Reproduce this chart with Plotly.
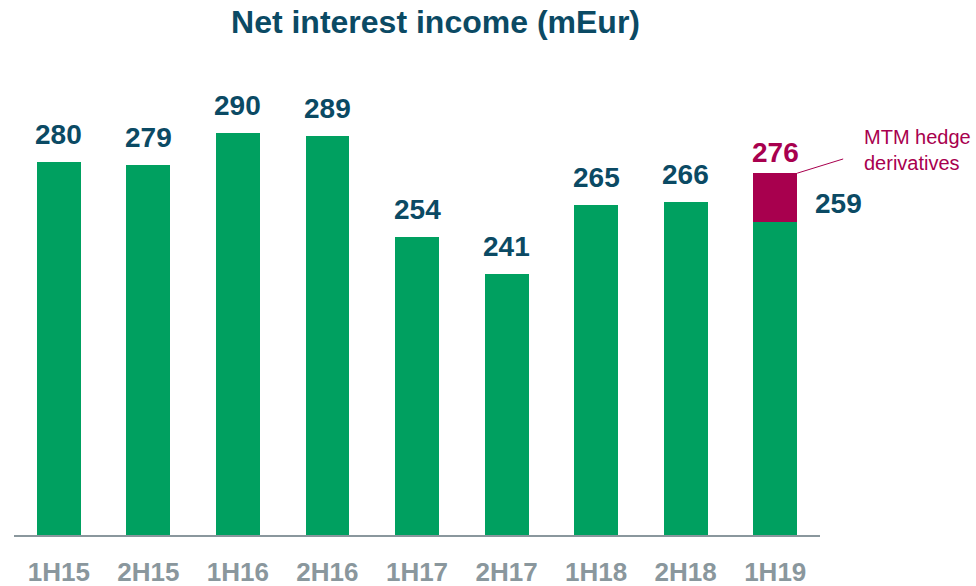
import plotly.graph_objects as go

categories = ["1H15", "2H15", "1H16", "2H16", "1H17", "2H17", "1H18", "2H18", "1H19"]
nii_values = [280, 279, 290, 289, 254, 241, 265, 266, 259]
mtm_values = [0, 0, 0, 0, 0, 0, 0, 0, 17]
title_text = "Net interest income (mEur)"
mtm_label = "MTM hedge<br>derivatives"

GREEN = "#00A060"
CRIMSON = "#A8004E"
TEAL = "#0B4A64"
GREY = "#8A979D"
FONT = "Liberation Sans, Arial, sans-serif"

fig = go.Figure()
fig.add_trace(go.Bar(x=categories, y=nii_values, marker=dict(color=GREEN, line=dict(width=0)),
                     hoverinfo="skip"))
fig.add_trace(go.Bar(x=categories, y=[v if v else None for v in mtm_values],
                     marker=dict(color=CRIMSON, line=dict(width=0)), hoverinfo="skip"))

annotations = []
for i, (c, v) in enumerate(zip(categories, nii_values)):
    if mtm_values[i]:
        total = v + mtm_values[i]
        annotations.append(dict(x=c, y=total, text=f"<b>{total}</b>", showarrow=False,
                                yanchor="bottom", yshift=3,
                                font=dict(family=FONT, size=28, color=CRIMSON)))
        annotations.append(dict(x=c, y=v, text=f"<b>{v}</b>", showarrow=False,
                                yanchor="middle", xshift=63, yshift=19,
                                font=dict(family=FONT, size=28, color=TEAL)))
        annotations.append(dict(x=c, y=284.3, text=mtm_label, showarrow=False,
                                xanchor="left", yanchor="middle", align="left", xshift=86.5,
                                yshift=-1,
                                font=dict(family=FONT, size=20, color=CRIMSON)))
        annotations.append(dict(x=i + 0.245, y=total, text="", showarrow=True, arrowhead=0,
                                arrowwidth=1, arrowcolor=CRIMSON, ax=47.5, ay=-14.7,
                                standoff=0, startstandoff=0))
    else:
        annotations.append(dict(x=c, y=v, text=f"<b>{v}</b>", showarrow=False,
                                yanchor="bottom", yshift=10,
                                font=dict(family=FONT, size=28, color=TEAL)))

fig.update_layout(
    width=976, height=586,
    barmode="stack", bargap=0.51,
    showlegend=False,
    plot_bgcolor="white", paper_bgcolor="white",
    margin=dict(l=14, r=156, t=60, b=50.5, autoexpand=False),
    title=dict(text=f"<b>{title_text}</b>", x=435.5/976, xanchor="center", y=1 - 22/586, yanchor="middle",
               font=dict(family=FONT, size=32, color=TEAL)),
    annotations=annotations,
    xaxis=dict(showline=True, linecolor=GREY, linewidth=2, ticks="", showgrid=False,
               range=[-0.5, 8.5], automargin=False,
               tickfont=dict(family=FONT, size=26, color=GREY), tickprefix="<b>", ticksuffix="</b>",
               ticklabelstandoff=13),
    yaxis=dict(range=[150.4, 315.3], visible=False, showgrid=False, zeroline=False, automargin=False),
)

fig.write_html("out.html", config={"displayModeBar": False},
               post_script="document.body.style.margin='0';")
